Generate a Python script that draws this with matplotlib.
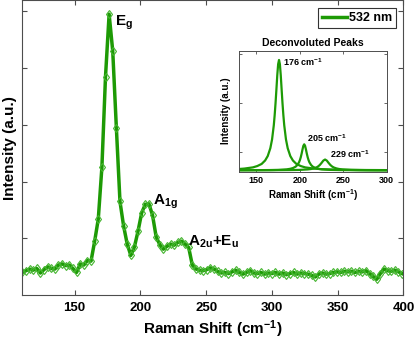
import numpy as np
import matplotlib
matplotlib.use("Agg")
import matplotlib.pyplot as plt

plt.rcParams['font.family'] = ['Liberation Sans', 'DejaVu Sans']
plt.rcParams['font.weight'] = 'bold'
plt.rcParams['mathtext.fontset'] = 'custom'
plt.rcParams['mathtext.rm'] = 'Liberation Sans:bold'
plt.rcParams['mathtext.default'] = 'rm'

# Measured spectrum (532 nm), Raman shift grid in cm^-1
raman_shift = np.arange(110.25, 400.0, 2.75)
intensity = [
    0.40, 0.43, 0.46, 0.44, 0.47, 0.39, 0.45, 0.50, 0.47, 0.46,
    0.53, 0.55, 0.52, 0.53, 0.47, 0.40, 0.55, 0.53, 0.61, 0.60,
    0.95, 1.34, 2.25, 3.85, 4.95, 4.30, 2.95, 1.65, 1.22, 0.90,
    0.70, 0.85, 1.13, 1.45, 1.60, 1.61, 1.41, 1.03, 0.89, 0.81,
    0.86, 0.90, 0.88, 0.93, 0.95, 0.90, 0.84, 0.53, 0.46, 0.44,
    0.43, 0.45, 0.48, 0.46, 0.42, 0.39, 0.40, 0.38, 0.41, 0.44,
    0.40, 0.37, 0.40, 0.43, 0.39, 0.38, 0.40, 0.37, 0.39, 0.38,
    0.40, 0.37, 0.39, 0.36, 0.38, 0.40, 0.37, 0.39, 0.38, 0.37,
    0.35, 0.32, 0.37, 0.39, 0.37, 0.38, 0.40, 0.41, 0.40, 0.42,
    0.41, 0.42, 0.40, 0.42, 0.41, 0.43, 0.38, 0.33, 0.28, 0.38,
    0.46, 0.43, 0.42, 0.44, 0.41, 0.38,
]

# Deconvoluted peaks (inset)
peak176_x = [130, 136, 146, 151, 156, 160, 163, 166, 168, 170, 171, 172, 173, 174, 175, 176,
             177, 178, 179, 180, 181, 182, 184, 186, 189, 192, 196, 201, 206, 216, 226, 246, 276, 300]
peak176_y = [0.647, 0.655, 0.680, 0.707, 0.750, 0.820, 0.910, 1.070, 1.250, 1.540, 1.745, 1.990,
             2.270, 2.560, 2.785, 2.870, 2.785, 2.560, 2.270, 1.990, 1.745, 1.540, 1.250, 1.070,
             0.910, 0.820, 0.750, 0.707, 0.680, 0.655, 0.642, 0.631, 0.626, 0.624]
peak205_x = [130, 145, 165, 175, 185, 189, 192, 195, 197, 199, 200, 201, 202, 203, 204, 205,
             206, 207, 208, 209, 210, 211, 213, 215, 218, 221, 225, 235, 245, 265, 280, 300]
peak205_y = [0.621, 0.622, 0.625, 0.629, 0.640, 0.651, 0.666, 0.693, 0.726, 0.783, 0.827, 0.885,
             0.959, 1.044, 1.119, 1.150, 1.119, 1.044, 0.959, 0.885, 0.827, 0.783, 0.726, 0.693,
             0.666, 0.651, 0.640, 0.629, 0.625, 0.622, 0.621, 0.621]
peak229_x = [130, 169, 189, 199, 209, 213, 216, 219, 221, 223, 225, 227, 229, 231, 233, 235,
             237, 239, 242, 245, 249, 259, 269, 289, 300]
peak229_y = [0.621, 0.622, 0.625, 0.628, 0.638, 0.647, 0.659, 0.678, 0.699, 0.730, 0.772, 0.818,
             0.840, 0.818, 0.772, 0.730, 0.699, 0.678, 0.659, 0.647, 0.638, 0.628, 0.625, 0.622, 0.622]

green = '#1d9a05'
marker_green = '#45b530'
spine_col = '#4d4d4d'

fig = plt.figure(figsize=(4.15, 3.42), dpi=100)
ax = fig.add_axes([0.053, 0.137, 0.919, 0.863])

ax.plot(raman_shift, intensity, color=green, lw=2.5, marker='d', ms=4.5,
        mfc='none', mec=marker_green, mew=0.8, label='532 nm')

ax.set_xlim(110, 400)
ax.set_ylim(0, 5.2)
ax.set_xticks([150, 200, 250, 300, 350, 400])
ax.set_yticks([1, 2, 3, 4, 5])
ax.set_yticklabels([])
ax.tick_params(direction='in', top=True, right=True, length=3.5, width=0.8,
               color=spine_col, labelsize=9.5, pad=5)
for lab in ax.get_xticklabels():
    lab.set_fontweight('bold')
for s in ax.spines.values():
    s.set_color(spine_col)
    s.set_linewidth(0.8)

ax.set_xlabel('Raman Shift (cm$^{-1}$)', fontsize=11, fontweight='bold', labelpad=3)
ax.set_ylabel('Intensity (a.u.)', fontsize=11, fontweight='bold')
ax.yaxis.set_label_coords(-0.014, 0.5)

ax.text(180.8, 4.75, 'E$_g$', fontsize=11, va='baseline')
ax.text(209.5, 1.60, 'A$_{1g}$', fontsize=11, va='baseline')
ax.text(236.6, 0.88, 'A$_{2u}$+E$_u$', fontsize=11, va='baseline')

leg = ax.legend(loc='upper right', bbox_to_anchor=(0.981, 0.972), borderaxespad=0,
                fontsize=9, handlelength=2.0, handletextpad=0.2, borderpad=0.3,
                fancybox=False, framealpha=1)
leg.get_frame().set_edgecolor('#333333')
leg.get_frame().set_linewidth(0.8)
for line in leg.get_lines():
    line.set_marker('')
    line.set_linewidth(2.5)

# Inset
axi = fig.add_axes([0.576, 0.498, 0.356, 0.354])
axi.plot(peak176_x, peak176_y, color=green, lw=1.6)
axi.plot(peak205_x, peak205_y, color=green, lw=1.6)
axi.plot(peak229_x, peak229_y, color=green, lw=1.6)
axi.set_xlim(130, 300)
axi.set_ylim(0.592, 3.061)
axi.set_xticks([150, 200, 250, 300])
axi.set_yticks([1, 2, 3])
axi.set_yticklabels([])
axi.tick_params(direction='in', top=True, right=True, length=2.5, width=0.6,
                color=spine_col, labelsize=6.5, pad=3)
for lab in axi.get_xticklabels():
    lab.set_fontweight('bold')
for s in axi.spines.values():
    s.set_color(spine_col)
    s.set_linewidth(0.7)
axi.set_title('Deconvoluted Peaks', fontsize=7.5, fontweight='bold', pad=3)
axi.set_xlabel('Raman Shift (cm$^{-1}$)', fontsize=7, fontweight='bold', labelpad=2)
axi.set_ylabel('Intensity (a.u.)', fontsize=7, fontweight='bold', labelpad=3)

axi.text(180.5, 2.75, '176 cm$^{-1}$', fontsize=6.5, va='baseline')
axi.text(208.2, 1.20, '205 cm$^{-1}$', fontsize=6.5, va='baseline')
axi.text(235.1, 0.88, '229 cm$^{-1}$', fontsize=6.5, va='baseline')

fig.savefig('out.png', dpi=100)
